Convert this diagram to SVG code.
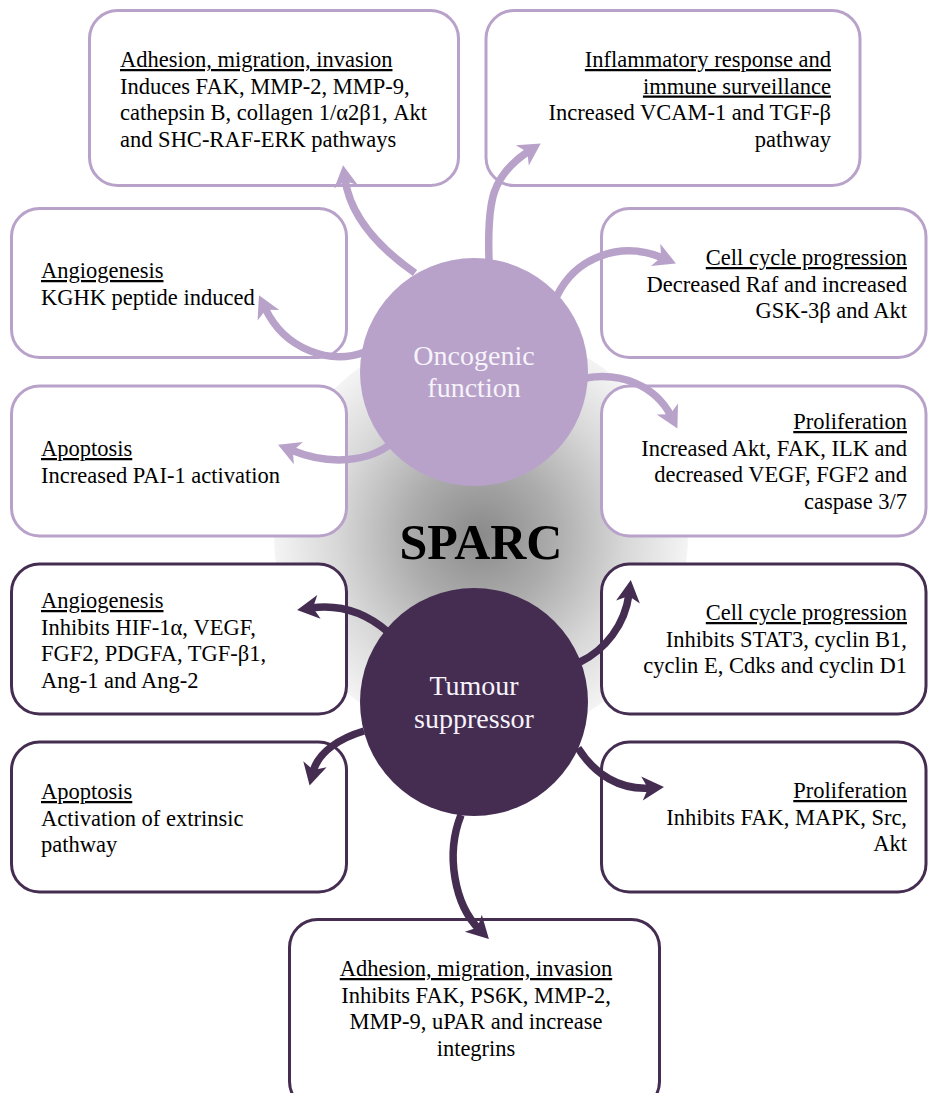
<svg xmlns="http://www.w3.org/2000/svg" width="928" height="1093" viewBox="0 0 928 1093" font-family="'Liberation Serif', 'Times New Roman', serif">
<style>
.t{font-family:'Liberation Serif', 'Times New Roman', serif;font-size:22.5px;fill:#000}
.h{text-decoration:underline}
.r{text-anchor:end}
.c{text-anchor:middle}
.bo{fill:#fff;stroke:#b8a2ca;stroke-width:3}
.bt{fill:#fff;stroke:#452d52;stroke-width:3}
.ao{fill:none;stroke:#b8a2ca;stroke-width:7.5}
.at{fill:none;stroke:#452d52;stroke-width:7.5}
.ct{font-family:'Liberation Serif', 'Times New Roman', serif;font-size:28px;text-anchor:middle;fill:#f7f3fa}
</style>
<defs>
<radialGradient id="g" cx="481" cy="535" r="207" gradientUnits="userSpaceOnUse">
<stop offset="0" stop-color="#8a8a8a"/>
<stop offset="0.35" stop-color="#acacac"/>
<stop offset="0.7" stop-color="#d8d8d8"/>
<stop offset="1" stop-color="#f4f4f4"/>
</radialGradient>
<marker id="mo" markerUnits="userSpaceOnUse" markerWidth="40" markerHeight="40" refX="0" refY="0" viewBox="-20 -20 40 40" orient="auto" overflow="visible">
<path d="M14 0 L-8 -12 L-2 0 L-8 12 Z" fill="#b8a2ca"/>
</marker>
<marker id="mt" markerUnits="userSpaceOnUse" markerWidth="40" markerHeight="40" refX="0" refY="0" viewBox="-20 -20 40 40" orient="auto" overflow="visible">
<path d="M14 0 L-8 -12 L-2 0 L-8 12 Z" fill="#452d52"/>
</marker>
</defs>
<rect width="928" height="1093" fill="#fff"/>
<circle id="sparc-bg" cx="481" cy="535" r="207" fill="url(#g)"/>

<g id="onc-adhesion">
<rect class="bo" x="89.5" y="10.5" width="369" height="175" rx="28"/>
<text class="t" x="120" y="67"><tspan class="h">Adhesion, migration, invasion</tspan><tspan x="120" dy="26.5">Induces FAK, MMP-2, MMP-9,</tspan><tspan x="120" dy="26.5">cathepsin B, collagen 1/α2β1, Akt</tspan><tspan x="120" dy="26.5">and SHC-RAF-ERK pathways</tspan></text>
</g>
<g id="onc-inflammatory">
<rect class="bo" x="486" y="10.5" width="374" height="175" rx="28"/>
<text class="t r" x="831" y="67"><tspan class="h">Inflammatory response and</tspan><tspan class="h" x="831" dy="26.5">immune surveillance</tspan><tspan x="831" dy="26.5">Increased VCAM-1 and TGF-β</tspan><tspan x="831" dy="26.5">pathway</tspan></text>
</g>
<g id="onc-angiogenesis">
<rect class="bo" x="11.5" y="208.5" width="335" height="149" rx="28"/>
<text class="t" x="41" y="278"><tspan class="h">Angiogenesis</tspan><tspan x="41" dy="26.5">KGHK peptide induced</tspan></text>
</g>
<g id="onc-cellcycle">
<rect class="bo" x="601.5" y="208.5" width="324.5" height="149" rx="28"/>
<text class="t r" x="907" y="265"><tspan class="h">Cell cycle progression</tspan><tspan x="907" dy="26.5">Decreased Raf and increased</tspan><tspan x="907" dy="26.5">GSK-3β and Akt</tspan></text>
</g>
<g id="onc-apoptosis">
<rect class="bo" x="11.5" y="386" width="335" height="150" rx="28"/>
<text class="t" x="41" y="456"><tspan class="h">Apoptosis</tspan><tspan x="41" dy="26.5">Increased PAI-1 activation</tspan></text>
</g>
<g id="onc-proliferation">
<rect class="bo" x="601.5" y="386" width="324.5" height="150" rx="28"/>
<text class="t r" x="907" y="429"><tspan class="h">Proliferation</tspan><tspan x="907" dy="26.5">Increased Akt, FAK, ILK and</tspan><tspan x="907" dy="26.5">decreased VEGF, FGF2 and</tspan><tspan x="907" dy="26.5">caspase 3/7</tspan></text>
</g>
<g id="ts-angiogenesis">
<rect class="bt" x="11.5" y="564" width="335" height="150" rx="28"/>
<text class="t" x="41" y="608"><tspan class="h">Angiogenesis</tspan><tspan x="41" dy="26.5">Inhibits HIF-1α, VEGF,</tspan><tspan x="41" dy="26.5">FGF2, PDGFA, TGF-β1,</tspan><tspan x="41" dy="26.5">Ang-1 and Ang-2</tspan></text>
</g>
<g id="ts-cellcycle">
<rect class="bt" x="601.5" y="564" width="324.5" height="150" rx="28"/>
<text class="t r" x="907" y="620"><tspan class="h">Cell cycle progression</tspan><tspan x="907" dy="26.5">Inhibits STAT3, cyclin B1,</tspan><tspan x="907" dy="26.5">cyclin E, Cdks and cyclin D1</tspan></text>
</g>
<g id="ts-apoptosis">
<rect class="bt" x="11.5" y="742" width="335" height="150" rx="28"/>
<text class="t" x="41" y="799"><tspan class="h">Apoptosis</tspan><tspan x="41" dy="26.5">Activation of extrinsic</tspan><tspan x="41" dy="26.5">pathway</tspan></text>
</g>
<g id="ts-proliferation">
<rect class="bt" x="601.5" y="742" width="324.5" height="150" rx="28"/>
<text class="t r" x="907" y="798"><tspan class="h">Proliferation</tspan><tspan x="907" dy="26.5">Inhibits FAK, MAPK, Src,</tspan><tspan x="907" dy="26.5">Akt</tspan></text>
</g>
<g id="ts-adhesion">
<rect class="bt" x="289.5" y="919.5" width="370" height="190" rx="28"/>
<text class="t c" x="476" y="976"><tspan class="h">Adhesion, migration, invasion</tspan><tspan x="476" dy="26.5">Inhibits FAK, PS6K, MMP-2,</tspan><tspan x="476" dy="26.5">MMP-9, uPAR and increase</tspan><tspan x="476" dy="26.5">integrins</tspan></text>
</g>

<g id="connectors">
<path class="ao" marker-end="url(#mo)" d="M415 273 C375 245 350 215 345 179"/>
<path class="ao" marker-end="url(#mo)" d="M489 260 C487 200 492 175 529 151"/>
<path class="ao" marker-end="url(#mo)" d="M365 352 C330 365 285 350 265 308"/>
<path class="ao" marker-end="url(#mo)" d="M393 442 C370 462 330 466 291 450"/>
<path class="ao" marker-end="url(#mo)" d="M557 296 C575 258 620 240 663 258"/>
<path class="ao" marker-end="url(#mo)" d="M586 378 C620 372 655 385 671 416"/>
<path class="at" marker-end="url(#mt)" d="M388 632 C365 612 340 604 311 608"/>
<path class="at" marker-end="url(#mt)" d="M580 662 C605 650 625 625 629 594"/>
<path class="at" marker-end="url(#mt)" d="M364 731 C340 738 318 752 313 772"/>
<path class="at" marker-end="url(#mt)" d="M578 748 C595 775 620 790 650 788"/>
<path class="at" marker-end="url(#mt)" d="M461 815 C445 855 455 905 479 929"/>
</g>

<g id="oncogenic">
<circle cx="474" cy="372" r="114" fill="#b8a2ca"/>
<text class="ct" x="474" y="365">Oncogenic</text>
<text class="ct" x="474" y="397">function</text>
</g>
<g id="tumour-suppressor">
<circle cx="474" cy="702" r="114" fill="#452d52"/>
<text class="ct" x="474" y="695">Tumour</text>
<text class="ct" x="474" y="728">suppressor</text>
</g>
<g id="sparc">
<text x="481" y="559" font-size="50" font-weight="bold" text-anchor="middle" fill="#000">SPARC</text>
</g>
</svg>
